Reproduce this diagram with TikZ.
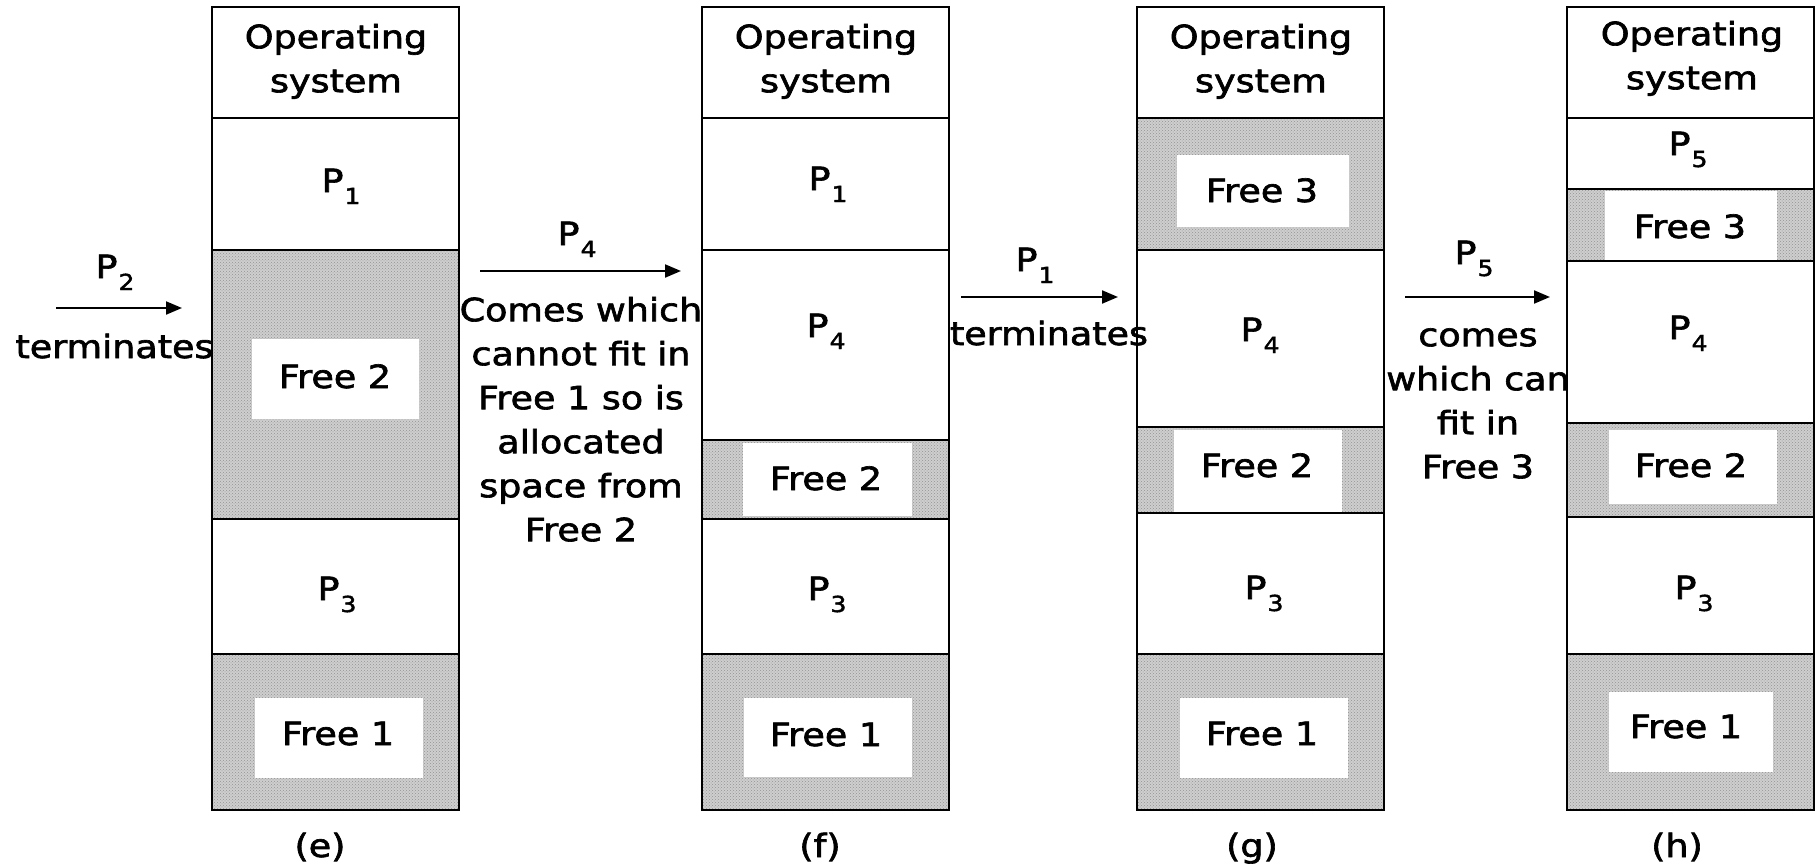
\documentclass[tikz,border=0pt]{standalone}
\usepackage{fontspec}
\setmainfont{DejaVu Sans}[FakeStretch=1.14,FakeBold=2]
\usetikzlibrary{arrows.meta,patterns}
\definecolor{shadegray}{RGB}{206,206,206}
\newcommand{\Psub}[1]{P\kern1pt\raisebox{-12pt}{\fontsize{22}{22}\selectfont #1}}
\tikzset{
  mem/.style={draw=black, line width=2pt},
  freefill/.style={preaction={fill=shadegray}, pattern=crosshatch dots, pattern color=gray!85},
  whitebox/.style={fill=white, draw=none},
  lbl/.style={inner sep=0pt, font=\fontsize{32}{44}\selectfont},
  plbl/.style={lbl, anchor=base},
  ml/.style={lbl, anchor=north, align=center},
  arr/.style={line width=2pt, -{Triangle[length=16pt,width=13pt]}},
}
\begin{document}
\begin{tikzpicture}[x=1pt,y=-1pt]
\useasboundingbox (0,0) rectangle (1816,867);

% ---------- column (e) ----------
\path[freefill] (212,250) rectangle (459,519);
\path[freefill] (212,654) rectangle (459,810);
\path[whitebox] (252,339) rectangle (419,419);
\path[whitebox] (255,698) rectangle (423,778);
\draw[mem] (212,7) rectangle (459,810);
\foreach \yy in {118,250,519,654} \draw[mem] (212,\yy) -- (459,\yy);
\node[ml] (osE) at (336,17.2) {\strut Operating\\system};
\node[plbl] (p1E) at (341,192) {\Psub{1}};
\node[plbl] (f2E) at (335,388) {Free 2};
\node[plbl] (p3E) at (337,600) {\Psub{3}};
\node[plbl] (f1E) at (338,745) {Free 1};
\node[plbl] (capE) at (320,857) {(e)};

% ---------- column (f) ----------
\path[freefill] (702,440) rectangle (949,519);
\path[freefill] (702,654) rectangle (949,810);
\path[whitebox] (743,443) rectangle (912,516);
\path[whitebox] (744,698) rectangle (912,777);
\draw[mem] (702,7) rectangle (949,810);
\foreach \yy in {118,250,440,519,654} \draw[mem] (702,\yy) -- (949,\yy);
\node[ml] (osF) at (826,17.2) {\strut Operating\\system};
\node[plbl] (p1F) at (828,190) {\Psub{1}};
\node[plbl] (p4F) at (826,337) {\Psub{4}};
\node[plbl] (f2F) at (826,490) {Free 2};
\node[plbl] (p3F) at (827,600) {\Psub{3}};
\node[plbl] (f1F) at (826,746) {Free 1};
\node[plbl] (capF) at (820,857) {(f)};

% ---------- column (g) ----------
\path[freefill] (1137,118) rectangle (1384,250);
\path[freefill] (1137,427) rectangle (1384,513);
\path[freefill] (1137,654) rectangle (1384,810);
\path[whitebox] (1177,155) rectangle (1349,227);
\path[whitebox] (1174,430) rectangle (1342,513);
\path[whitebox] (1180,698) rectangle (1348,778);
\draw[mem] (1137,7) rectangle (1384,810);
\foreach \yy in {118,250,427,513,654} \draw[mem] (1137,\yy) -- (1384,\yy);
\node[ml] (osG) at (1261,17.2) {\strut Operating\\system};
\node[plbl] (f3G) at (1262,202) {Free 3};
\node[plbl] (p4G) at (1260,341) {\Psub{4}};
\node[plbl] (f2G) at (1257,477) {Free 2};
\node[plbl] (p3G) at (1264,599) {\Psub{3}};
\node[plbl] (f1G) at (1262,745) {Free 1};
\node[plbl] (capG) at (1252,857) {(g)};

% ---------- column (h) ----------
\path[freefill] (1567,189) rectangle (1814,261);
\path[freefill] (1567,423) rectangle (1814,517);
\path[freefill] (1567,654) rectangle (1814,810);
\path[whitebox] (1605,191) rectangle (1777,260);
\path[whitebox] (1609,430) rectangle (1777,504);
\path[whitebox] (1609,692) rectangle (1773,772);
\draw[mem] (1567,7) rectangle (1814,810);
\foreach \yy in {118,189,261,423,517,654} \draw[mem] (1567,\yy) -- (1814,\yy);
\node[ml] (osH) at (1692,14.2) {\strut Operating\\system};
\node[plbl] (p5H) at (1688,155) {\Psub{5}};
\node[plbl] (f3H) at (1690,238) {Free 3};
\node[plbl] (p4H) at (1688,339) {\Psub{4}};
\node[plbl] (f2H) at (1691,477) {Free 2};
\node[plbl] (p3H) at (1694,599) {\Psub{3}};
\node[plbl] (f1H) at (1686,738) {Free 1};
\node[plbl] (capH) at (1677,857) {(h)};

% ---------- transitions ----------
\coordinate (aEs) at (56,308);
\coordinate (aEe) at (182,308);
\draw[arr] (aEs) -- (aEe);
\node[plbl] (lblP2) at (115,278) {\Psub{2}};
\node[plbl] (termE) at (114.5,358) {terminates};

\coordinate (aFs) at (480,271);
\coordinate (aFe) at (681,271);
\draw[arr] (aFs) -- (aFe);
\node[plbl] (lblP4) at (577,245) {\Psub{4}};
\node[ml] (txtF) at (581,290.2) {\strut Comes which\\cannot fit in\\Free 1 so is\\allocated\\space from\\Free 2};

\coordinate (aGs) at (961,297);
\coordinate (aGe) at (1118,297);
\draw[arr] (aGs) -- (aGe);
\node[plbl] (lblP1) at (1035,271) {\Psub{1}};
\node[plbl] (termG) at (1049,345) {terminates};

\coordinate (aHs) at (1405,297);
\coordinate (aHe) at (1550,297);
\draw[arr] (aHs) -- (aHe);
\node[plbl] (lblP5) at (1474,264) {\Psub{5}};
\node[ml] (txtH) at (1478,315.2) {\strut comes\\which can\\fit in\\Free 3};
\end{tikzpicture}
\end{document}
